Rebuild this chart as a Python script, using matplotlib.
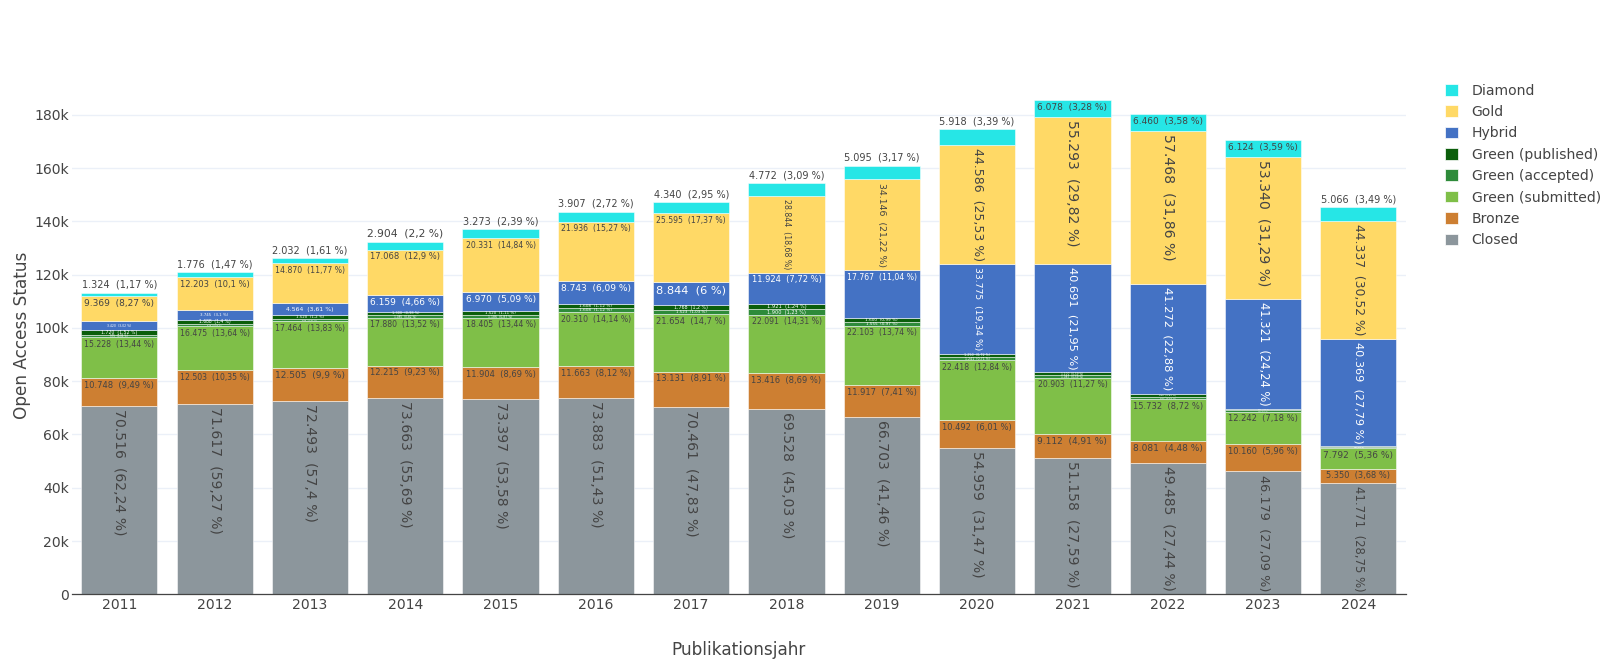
import matplotlib
matplotlib.use("Agg")
import matplotlib.pyplot as plt
from matplotlib.patches import Patch

years = ["2011", "2012", "2013", "2014", "2015", "2016", "2017",
         "2018", "2019", "2020", "2021", "2022", "2023", "2024"]

closed = [70516, 71617, 72493, 73663, 73397, 73883, 70461,
          69528, 66703, 54959, 51158, 49485, 46179, 41771]
bronze = [10748, 12503, 12505, 12215, 11904, 11663, 13131,
          13416, 11917, 10492, 9112, 8081, 10160, 5350]
green_submitted = [15228, 16475, 17464, 17880, 18405, 20310, 21654,
                   22091, 22103, 22418, 20903, 15732, 12242, 7792]
green_accepted = [975, 818, 846, 1085, 1186, 1608, 1523,
                  1900, 1555, 1241, 1087, 917, 499, 255]
green_published = [1720, 1688, 1520, 1300, 1520, 1608, 1768,
                    1921, 1600, 1250, 1100, 935, 600, 350]
hybrid = [3420, 3745, 4564, 6159, 6970, 8743, 8844,
          11924, 17767, 33775, 40691, 41272, 41321, 40369]
gold = [9369, 12203, 14870, 17068, 20331, 21936, 25595,
        28844, 34146, 44586, 55293, 57468, 53340, 44337]
diamond = [1324, 1776, 2032, 2904, 3273, 3907, 4340,
           4772, 5095, 5918, 6078, 6460, 6124, 5066]

# stacking order bottom -> top
series = [
    ("Closed", closed, "#8c969c"),
    ("Bronze", bronze, "#cd7f32"),
    ("Green (submitted)", green_submitted, "#7fbf48"),
    ("Green (accepted)", green_accepted, "#2e8b3a"),
    ("Green (published)", green_published, "#0b5e0b"),
    ("Hybrid", hybrid, "#4472c4"),
    ("Gold", gold, "#ffd966"),
    ("Diamond", diamond, "#26e6e6"),
]

totals = [sum(s[1][i] for s in series) for i in range(len(years))]


def fmt_label(v, total):
    num = f"{v:,}".replace(",", ".")
    p = f"{v / total * 100:.2f}".rstrip("0").rstrip(".").replace(".", ",")
    return f"{num}  ({p} %)"


def text_color(hexcol):
    r, g, b = (int(hexcol[k:k + 2], 16) for k in (1, 3, 5))
    return "#444444" if (r * 299 + g * 587 + b * 114) / 1000 > 128 else "white"


W, H = 1613, 668
fig = plt.figure(figsize=(W / 100, H / 100), dpi=100)
plt.rcParams["font.family"] = ["DejaVu Sans"]

ax_l, ax_r, ax_b, ax_t = 71.7, 1406.0, 594.3, 76.0
ax = fig.add_axes([ax_l / W, (H - ax_b) / H, (ax_r - ax_l) / W, (ax_b - ax_t) / H])
ymax = 194600
ax.set_xlim(-0.5, len(years) - 0.5)
ax.set_ylim(0, ymax)

x = list(range(len(years)))
bottom = [0] * len(years)
bottoms = []
for name, vals, col in series:
    ax.bar(x, vals, bottom=bottom, width=0.8, color=col, edgecolor="white",
           linewidth=0.36, zorder=2, label=name)
    bottoms.append(list(bottom))
    bottom = [b + v for b, v in zip(bottom, vals)]

# ----- bar texts (plotly "auto" text placement) -----
FS_PX = 14
FS = FS_PX * 72 / 100
px_y = (ax_b - ax_t) / ymax
bar_w = 0.8 * (ax_r - ax_l) / len(years)
renderer = fig.canvas.get_renderer()
PAD = 3

for si, (name, vals, col) in enumerate(series):
    outmost = si == len(series) - 1
    for i, v in enumerate(vals):
        label = fmt_label(v, totals[i])
        tmp = ax.text(0, 0, label, fontsize=FS)
        bb = tmp.get_window_extent(renderer)
        tmp.remove()
        tw, th = bb.width, bb.height
        bar_h = v * px_y
        top = bottoms[si][i] + v
        pad = PAD if (bar_w > 2 * PAD and bar_h > 2 * PAD) else 0
        lx, ly = bar_w - 2 * pad, bar_h - 2 * pad
        rotate = (not (tw <= lx and th <= ly)) and (
            (tw <= ly and th <= lx) or ((tw < th) != (lx < ly)))
        rx, ry = (th, tw) if rotate else (tw, th)
        s = min(1.0, lx / rx, ly / ry) if ly > 0 else 0
        inside = not (outmost and ly < 0.71 * FS_PX)
        if inside:
            if s * FS < 0.4:
                continue
            yc = top - (pad + ry * s / 2) / px_y
            ax.text(i, yc, label, fontsize=FS * s, rotation=-90 if rotate else 0,
                    ha="center", va="center", color=text_color(col), zorder=3)
        else:
            s = min(1.0, bar_w / tw)
            yc = top + (PAD + th * s / 2) / px_y
            ax.text(i, yc, label, fontsize=FS * s, ha="center", va="center",
                    color="#444444", zorder=3)

# ----- axes styling -----
for sp in ("top", "right", "left"):
    ax.spines[sp].set_visible(False)
ax.spines["bottom"].set_color("#444444")
ax.spines["bottom"].set_linewidth(0.9)
ax.spines["bottom"].set_zorder(4)
yt = list(range(0, 180001, 20000))
ax.set_yticks(yt)
ax.set_yticklabels(["0"] + [f"{t // 1000}k" for t in yt[1:]])
ax.set_xticks(x)
ax.set_xticklabels(years)
ax.tick_params(axis="y", length=0, pad=2, labelsize=FS, labelcolor="#444444")
ax.tick_params(axis="x", length=0, pad=2.5, labelsize=FS, labelcolor="#444444")
ax.grid(axis="y", color="#ebf0f8", linewidth=1, zorder=0)
ax.set_axisbelow(True)

fig.text(22.4 / W, 1 - (ax_b + ax_t) / 2 / H, "Open Access Status", rotation=90,
         ha="center", va="center", fontsize=12.2, color="#444444")
fig.text((ax_l + ax_r) / 2 / W, 1 - 650 / H, "Publikationsjahr", ha="center",
         va="center", fontsize=12.2, color="#444444")

handles = [Patch(facecolor=c, edgecolor="white", linewidth=0.5, label=n)
           for n, _, c in reversed(series)]
fig.legend(handles=handles, loc="upper left",
           bbox_to_anchor=(1445 / W, 1 - 83.7 / H), frameon=False,
           fontsize=FS, labelcolor="#444444", handlelength=0.9,
           handleheight=0.9, handletextpad=1.0, labelspacing=0.525,
           borderpad=0, borderaxespad=0)

fig.savefig("out.png", dpi=100)
